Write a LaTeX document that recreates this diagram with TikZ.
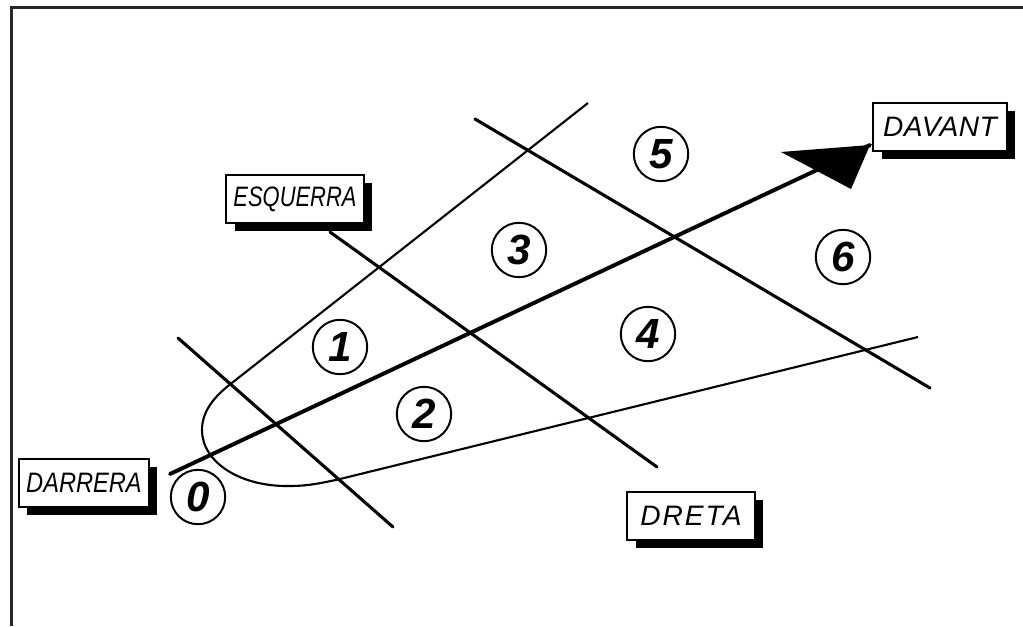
\documentclass[tikz,border=0pt]{standalone}
\usepackage{fontspec}
\setmainfont{Liberation Sans}
\usetikzlibrary{shadows}

\begin{document}
\begin{tikzpicture}[x=0.025cm, y=-0.025cm,
    zona/.style={circle, draw, line width=1.4pt, minimum size=1.36cm, inner sep=0pt,
      font=\fontsize{30}{30}\selectfont\bfseries\itshape},
    rotul/.style={draw, fill=white, line width=1.4pt, minimum width=3.3cm, minimum height=1.22cm,
      inner sep=0pt, font=\fontsize{20}{24}\selectfont\itshape\addfontfeatures{LetterSpace=#1},
      drop shadow={shadow xshift=0.21cm, shadow yshift=-0.2cm, fill=black, opacity=1}},
    rotul/.default=0,
    linia/.style={line width=2.2pt, line cap=round}]
  \useasboundingbox (0,0) rectangle (1023,626);
  \draw[line width=2.2pt, black!85] (1023,7.5) -| (11.5,626);

  % el con
  \draw[line width=1.5pt] (588,103) -- (228,386)
    .. controls (212,399) and (202,413) .. (202,430)
    .. controls (202,462) and (240,487) .. (290,486)
    .. controls (308,486) and (322,483) .. (340,479) -- (918,337);

  % les tres linies
  \draw[linia] (178,338) -- (393,527);
  \draw[linia] (330,232) -- (657,467);
  \draw[linia] (475,119) -- (930,388);

  % eix
  \coordinate (darrera) at (170,474);
  \coordinate (punta) at (870,145);
  \draw[line width=2.8pt, line cap=round] (darrera) -- (punta);
  \fill (781,152) -- (punta) -- (851,189) -- cycle;

  \node[zona] (z0) at (198,497) {0};
  \node[zona] (z1) at (340,347) {1};
  \node[zona] (z2) at (424,414) {2};
  \node[zona] (z3) at (519,250) {3};
  \node[zona] (z4) at (648,334) {4};
  \node[zona] (z5) at (661,154) {5};
  \node[zona] (z6) at (843,257) {6};

  \node[rotul=2, minimum width=3.33cm] (davant) at (940,127) {DAVANT};
  \node[rotul, minimum width=3.43cm] (esquerra) at (295,199) {\scalebox{0.78}[1]{ESQUERRA}};
  \node[rotul, minimum width=3.25cm] (darr) at (84,483) {\scalebox{0.84}[1]{DARRERA}};
  \node[rotul=7, minimum width=3.18cm] (dreta) at (691,516) {DRETA};
\end{tikzpicture}
\end{document}
